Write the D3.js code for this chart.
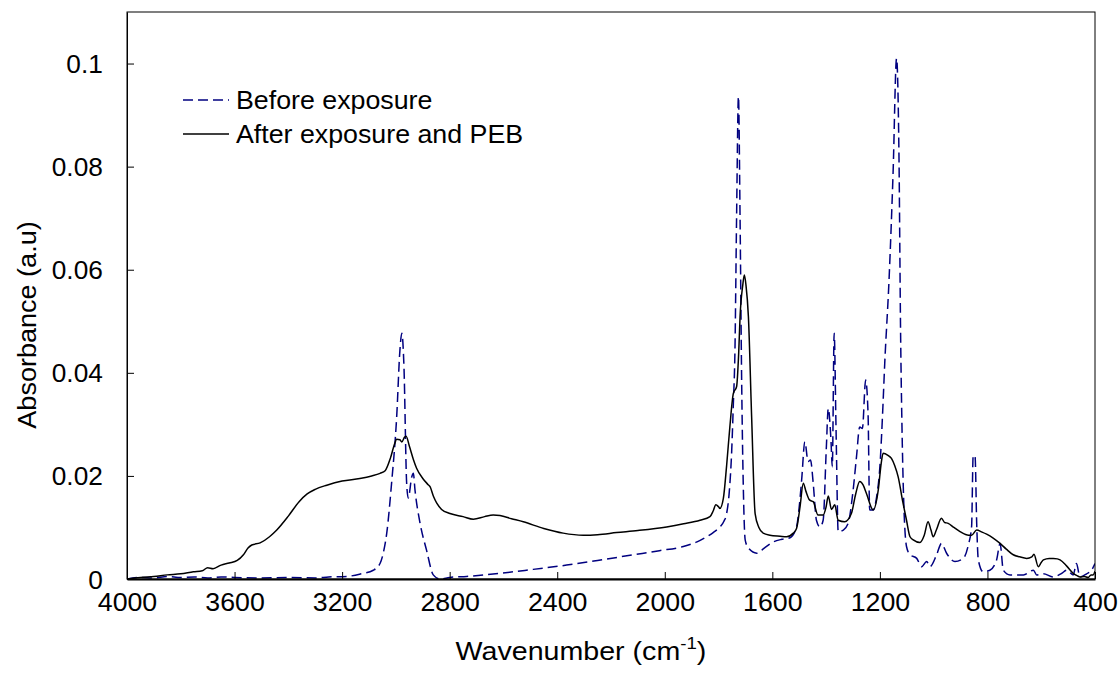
<!DOCTYPE html>
<html>
<head>
<meta charset="utf-8">
<script src="https://cdn.jsdelivr.net/npm/d3@7"></script>
<style>
  html, body { margin: 0; padding: 0; background: #fff; }
  svg text { font-family: "Liberation Sans", Arial, sans-serif; fill: #000; }
</style>
</head>
<body>
<svg id="chart" width="1120" height="674"></svg>
<script>
// FTIR spectra: [wavenumber (cm^-1), absorbance]
const beforeExposure = [
  [4000,0.0000],[3950,0.0003],[3900,0.0002],[3850,0.0005],[3800,0.0003],[3750,0.0004],
  [3700,0.0002],[3650,0.0004],[3600,0.0003],[3500,0.0002],[3400,0.0003],[3300,0.0002],
  [3250,0.0004],[3183,0.0005],[3130,0.0010],[3084,0.0017],[3059,0.0030],[3045,0.0055],
  [3034,0.0089],[3016,0.0186],[2997,0.0315],[2985,0.0444],[2978,0.0477],[2970,0.0412],
  [2960,0.0186],[2954,0.0157],[2941,0.0198],[2935,0.0205],[2929,0.0173],[2910,0.0108],
  [2886,0.0056],[2861,0.0008],[2836,0.0000],[2800,0.0003],[2737,0.0005],[2613,0.0011],
  [2500,0.0018],[2365,0.0027],[2250,0.0036],[2117,0.0047],[2020,0.0055],[1931,0.0063],
  [1880,0.0072],[1844,0.0082],[1820,0.0090],[1795,0.0101],[1780,0.0112],[1770,0.0127],
  [1760,0.0170],[1751,0.0250],[1745,0.0340],[1739,0.0444],[1733,0.0700],[1726,0.0936],
  [1720,0.0700],[1714,0.0380],[1708,0.0180],[1701,0.0076],[1689,0.0060],[1658,0.0050],
  [1630,0.0060],[1596,0.0072],[1565,0.0077],[1534,0.0080],[1510,0.0101],[1500,0.0140],
  [1491,0.0192],[1479,0.0266],[1467,0.0228],[1458,0.0231],[1448,0.0186],[1436,0.0114],
  [1423,0.0101],[1411,0.0114],[1399,0.0257],[1392,0.0331],[1382,0.0270],[1377,0.0218],
  [1370,0.0477],[1363,0.0289],[1355,0.0092],[1336,0.0095],[1318,0.0108],[1300,0.0170],
  [1287,0.0237],[1275,0.0295],[1265,0.0292],[1253,0.0386],[1244,0.0321],[1238,0.0134],
  [1225,0.0134],[1212,0.0160],[1200,0.0218],[1190,0.0320],[1182,0.0418],[1166,0.0580],
  [1151,0.0787],[1138,0.1010],[1129,0.0820],[1123,0.0477],[1118,0.0300],[1113,0.0179],
  [1101,0.0063],[1088,0.0047],[1063,0.0040],[1045,0.0024],[1026,0.0034],[1014,0.0024],
  [989,0.0047],[971,0.0069],[952,0.0050],[921,0.0034],[890,0.0040],[871,0.0066],
  [859,0.0101],[853,0.0240],[846,0.0237],[840,0.0108],[834,0.0037],[816,0.0014],
  [791,0.0017],[766,0.0037],[753,0.0069],[741,0.0017],[716,0.0008],[666,0.0008],
  [629,0.0017],[617,0.0008],[592,0.0010],[555,0.0004],[524,0.0011],[505,0.0017],
  [481,0.0008],[469,0.0030],[456,0.0004],[431,0.0010],[413,0.0017],[400,0.0030]
];

const afterExposurePEB = [
  [4000,0.0000],[3950,0.0003],[3900,0.0005],[3850,0.0008],[3800,0.0010],[3753,0.0014],
  [3720,0.0016],[3700,0.0022],[3680,0.0020],[3650,0.0027],[3620,0.0031],[3590,0.0036],
  [3567,0.0047],[3550,0.0060],[3536,0.0066],[3505,0.0070],[3470,0.0082],[3443,0.0095],
  [3400,0.0122],[3360,0.0150],[3330,0.0165],[3300,0.0174],[3257,0.0182],[3200,0.0190],
  [3134,0.0195],[3090,0.0200],[3059,0.0205],[3040,0.0210],[3020,0.0235],[3005,0.0262],
  [2997,0.0271],[2985,0.0270],[2978,0.0266],[2968,0.0275],[2962,0.0277],[2950,0.0258],
  [2935,0.0232],[2923,0.0215],[2900,0.0195],[2880,0.0183],[2873,0.0179],[2860,0.0160],
  [2848,0.0147],[2830,0.0135],[2799,0.0127],[2750,0.0121],[2712,0.0116],[2670,0.0121],
  [2638,0.0124],[2613,0.0123],[2570,0.0117],[2526,0.0111],[2450,0.0098],[2378,0.0089],
  [2303,0.0085],[2250,0.0086],[2179,0.0090],[2100,0.0094],[1993,0.0101],[1930,0.0107],
  [1869,0.0114],[1832,0.0121],[1820,0.0132],[1810,0.0144],[1800,0.0140],[1795,0.0137],
  [1782,0.0157],[1770,0.0220],[1758,0.0295],[1745,0.0360],[1733,0.0373],[1725,0.0440],
  [1720,0.0509],[1710,0.0570],[1704,0.0590],[1698,0.0570],[1689,0.0509],[1677,0.0315],
  [1664,0.0127],[1650,0.0100],[1634,0.0089],[1609,0.0085],[1571,0.0083],[1547,0.0082],
  [1522,0.0089],[1510,0.0098],[1497,0.0140],[1485,0.0186],[1475,0.0170],[1461,0.0153],
  [1448,0.0150],[1430,0.0124],[1411,0.0124],[1400,0.0140],[1392,0.0161],[1380,0.0135],
  [1368,0.0144],[1355,0.0114],[1331,0.0111],[1306,0.0127],[1290,0.0165],[1275,0.0189],
  [1262,0.0182],[1250,0.0166],[1225,0.0134],[1206,0.0173],[1195,0.0225],[1188,0.0244],
  [1170,0.0240],[1157,0.0234],[1145,0.0220],[1132,0.0198],[1115,0.0150],[1101,0.0114],
  [1088,0.0082],[1076,0.0076],[1051,0.0071],[1035,0.0085],[1021,0.0111],[1010,0.0095],
  [1002,0.0082],[990,0.0095],[971,0.0118],[960,0.0110],[946,0.0108],[925,0.0100],
  [902,0.0092],[870,0.0085],[859,0.0085],[840,0.0095],[820,0.0091],[803,0.0087],
  [780,0.0080],[753,0.0069],[730,0.0058],[704,0.0047],[680,0.0043],[654,0.0040],
  [635,0.0043],[627,0.0048],[611,0.0024],[600,0.0032],[592,0.0037],[570,0.0040],
  [555,0.0040],[540,0.0039],[530,0.0037],[505,0.0025],[481,0.0011],[465,0.0006],
  [456,0.0004],[440,0.0005],[425,0.0003],[415,0.0008],[407,0.0008],[400,0.0015]
];

const xTicks = [4000, 3600, 3200, 2800, 2400, 2000, 1600, 1200, 800, 400];
const yTicks = [0, 0.02, 0.04, 0.06, 0.08, 0.1];
const yTickLabels = ["0", "0.02", "0.04", "0.06", "0.08", "0.1"];
const seriesNames = ["Before exposure", "After exposure and PEB"];

const svg = d3.select("#chart");
const plot = { left: 127, right: 1095, top: 12, bottom: 579 };

const x = d3.scaleLinear().domain([4000, 400]).range([plot.left, plot.right]);
const y = d3.scaleLinear().domain([0, 0.11]).range([plot.bottom, plot.top]);

svg.append("defs").append("clipPath").attr("id", "plot-clip")
  .append("rect")
  .attr("x", plot.left).attr("y", plot.top)
  .attr("width", plot.right - plot.left).attr("height", plot.bottom - plot.top);

const line = d3.line()
  .x(d => x(d[0]))
  .y(d => y(d[1]))
  .curve(d3.curveMonotoneX);

const lines = svg.append("g").attr("clip-path", "url(#plot-clip)");

lines.append("path")
  .datum(beforeExposure)
  .attr("d", line)
  .attr("fill", "none")
  .attr("stroke", "#000080")
  .attr("stroke-width", 1.5)
  .attr("stroke-dasharray", "10,5");

lines.append("path")
  .datum(afterExposurePEB)
  .attr("d", line)
  .attr("fill", "none")
  .attr("stroke", "#000")
  .attr("stroke-width", 1.5);

// plot frame
svg.append("rect")
  .attr("x", plot.left).attr("y", plot.top)
  .attr("width", plot.right - plot.left).attr("height", plot.bottom - plot.top)
  .attr("fill", "none").attr("stroke", "#000").attr("stroke-width", 1);

// bottom axis with inward ticks
const xAxis = d3.axisBottom(x)
  .tickValues(xTicks)
  .tickSizeInner(-7)
  .tickSizeOuter(0)
  .tickPadding(32)
  .tickFormat(d3.format("d"));

const gx = svg.append("g")
  .attr("transform", `translate(0,${plot.bottom})`)
  .call(xAxis);
gx.select(".domain").attr("stroke", "#000").attr("stroke-width", 2);
gx.selectAll(".tick line").attr("stroke", "#000");
gx.selectAll(".tick text")
  .attr("font-size", 25)
  .attr("font-family", "'Liberation Sans', Arial, sans-serif")
  .attr("fill", "#000")
  .attr("dy", "0")
  .attr("transform", "scale(1.07,1)");

// left axis with inward ticks
const yAxis = d3.axisLeft(y)
  .tickValues(yTicks)
  .tickSizeInner(-7)
  .tickSizeOuter(0)
  .tickPadding(23)
  .tickFormat((d, i) => yTickLabels[i]);

const gy = svg.append("g")
  .attr("transform", `translate(${plot.left},0)`)
  .call(yAxis);
gy.select(".domain").attr("stroke", "#000").attr("stroke-width", 1);
gy.selectAll(".tick line").attr("stroke", "#000");
gy.selectAll(".tick text")
  .attr("font-size", 25)
  .attr("font-family", "'Liberation Sans', Arial, sans-serif")
  .attr("fill", "#000")
  .attr("dy", "0.36em")
  .attr("transform", "scale(1.05,1)");

// axis titles
const xTitle = svg.append("text")
  .attr("transform", "translate(581,660) scale(1.1,1)")
  .attr("text-anchor", "middle")
  .attr("font-size", 26);
xTitle.append("tspan").text("Wavenumber (cm");
xTitle.append("tspan").attr("font-size", 17).attr("dy", -11).text("-1");
xTitle.append("tspan").attr("dy", 11).text(")");

svg.append("text")
  .attr("transform", "translate(36,325) rotate(-90) scale(1.04,1)")
  .attr("text-anchor", "middle")
  .attr("font-size", 26)
  .text("Absorbance (a.u)");

// legend
const legend = svg.append("g");
const legendRows = [
  { name: seriesNames[0], stroke: "#000080", dash: "10,5", yPos: 100 },
  { name: seriesNames[1], stroke: "#000", dash: null, yPos: 134 }
];
legendRows.forEach(r => {
  legend.append("line")
    .attr("x1", 183).attr("x2", 229)
    .attr("y1", r.yPos).attr("y2", r.yPos)
    .attr("stroke", r.stroke).attr("stroke-width", 1.5)
    .attr("stroke-dasharray", r.dash);
  legend.append("text")
    .attr("transform", `translate(236,${r.yPos + 9}) scale(1.03,1)`)
    .attr("font-size", 26)
    .text(r.name);
});
</script>
</body>
</html>
